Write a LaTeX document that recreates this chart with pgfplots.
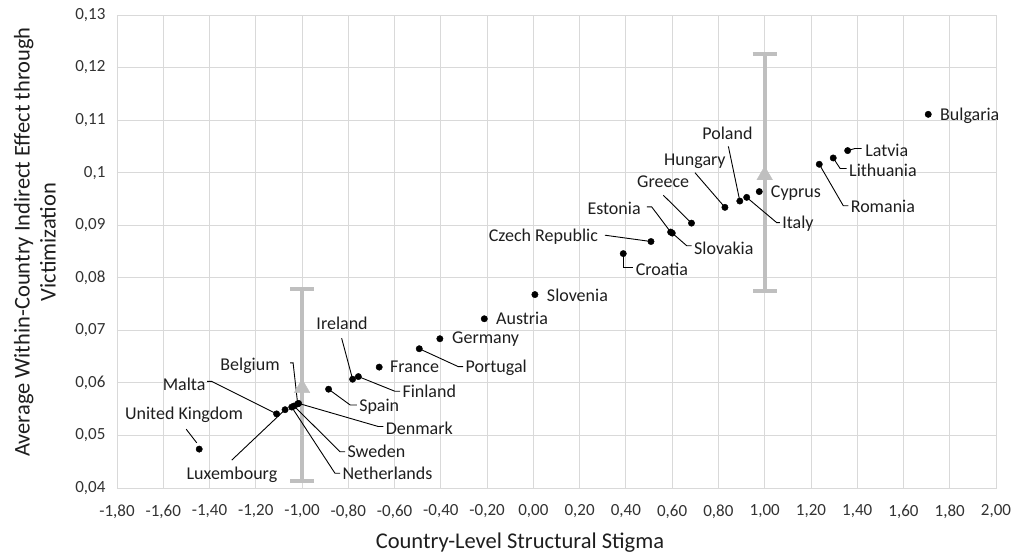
\documentclass[border=0pt]{standalone}
\usepackage{pgfplots}
\pgfplotsset{compat=1.18}
\usepackage{pgfplotstable}
\usepackage{fontspec}
\setmainfont{Carlito}
\definecolor{gridc}{RGB}{217,217,217}
\definecolor{errc}{RGB}{191,191,191}
\definecolor{txt}{RGB}{30,30,30}
\definecolor{tickc}{RGB}{50,50,50}
\pgfplotstableread{
x y
-1.4446 0.0474
-1.1100 0.0541
-1.0734 0.0549
-1.0447 0.0554
-1.0348 0.0556
-1.0189 0.0560
-1.0150 0.0561
-0.8853 0.0588
-0.7814 0.0607
-0.7566 0.0612
-0.6665 0.0630
-0.4933 0.0665
-0.4042 0.0684
-0.2122 0.0722
0.0066 0.0768
0.3886 0.0846
0.5084 0.0869
0.5935 0.0887
0.6005 0.0885
0.6836 0.0904
0.8281 0.0934
0.8925 0.0946
0.9222 0.0953
0.9766 0.0964
1.2359 0.1016
1.2963 0.1028
1.3587 0.1042
1.7071 0.1111
}\pts
\begin{document}
\begin{tikzpicture}[
  lbl/.style={font=\fontsize{18}{21}\selectfont, text=txt, inner sep=0pt},
  ld/.style={draw=black, line width=0.9pt},
]
\useasboundingbox (-117pt,-71pt) rectangle (898pt,488pt);
\begin{axis}[
  scale only axis, width=879pt, height=473pt,
  xmin=-1.8, xmax=2.0, ymin=0.04, ymax=0.13,
  xtick={-1.8,-1.6,-1.4,-1.2,-1,-0.8,-0.6,-0.4,-0.2,0,0.2,0.4,0.6,0.8,1,1.2,1.4,1.6,1.8,2},
  xticklabels={{-1,80},{-1,60},{-1,40},{-1,20},{-1,00},{-0,80},{-0,60},{-0,40},{-0,20},{0,00},{0,20},{0,40},{0,60},{0,80},{1,00},{1,20},{1,40},{1,60},{1,80},{2,00}},
  ytick={0.04,0.05,0.06,0.07,0.08,0.09,0.1,0.11,0.12,0.13},
  yticklabels={{0,04},{0,05},{0,06},{0,07},{0,08},{0,09},{0,1},{0,11},{0,12},{0,13}},
  scaled y ticks=false, scaled x ticks=false,
  grid=major, major grid style={draw=gridc, line width=0.8pt},
  axis line style={draw=gridc, line width=0.8pt},
  tick style={draw=none},
  tick label style={font=\fontsize{17}{20}\selectfont, text=tickc},
  xticklabel style={yshift=-13pt},
  yticklabel style={xshift=-8pt},
  xlabel={Country-Level Structural Stigma},
  ylabel={Average Within-Country Indirect Effect through\\Victimization},
  label style={font=\fontsize{22.5}{26}\selectfont, text=txt},
  xlabel style={at={(axis cs:-0.058,0.04)}, anchor=center, yshift=-55pt},
  ylabel style={at={(axis description cs:-0.0933,0.52)}, anchor=center, align=center},
  clip=false,
]
% error bars
\addplot[errc, only marks, mark=triangle*, mark size=9pt, mark options={fill=errc, draw=errc},
  error bars/.cd, y dir=both, y explicit,
  error bar style={line width=4pt, errc},
  error mark options={rotate=90, mark size=12pt, line width=4pt, errc}]
  coordinates {(-1,0.0590) += (0,0.0188) -= (0,0.0176)
               (1,0.0995) += (0,0.0231) -= (0,0.0221)};
% leader lines
\draw[ld] (axis cs:-1.5010,0.0512) -- (axis cs:-1.4554,0.0486);
\draw[ld] (axis cs:-1.4109,0.0603) -- (axis cs:-1.3911,0.0603) -- (axis cs:-1.1100,0.0541);
\draw[ld] (axis cs:-1.0516,0.0638) -- (axis cs:-1.0387,0.0638) -- (axis cs:-1.0189,0.0560);
\draw[ld] (axis cs:-1.3040,0.0453) -- (axis cs:-1.0734,0.0549);
\draw[ld] (axis cs:-1.0150,0.0561) -- (axis cs:-0.6705,0.0517) -- (axis cs:-0.6487,0.0517);
\draw[ld] (axis cs:-1.0348,0.0556) -- (axis cs:-0.8358,0.0469) -- (axis cs:-0.8140,0.0469);
\draw[ld] (axis cs:-1.0447,0.0554) -- (axis cs:-0.8576,0.0428) -- (axis cs:-0.8358,0.0428);
\draw[ld] (axis cs:-0.8853,0.0588) -- (axis cs:-0.7922,0.0558) -- (axis cs:-0.7635,0.0558);
\draw[ld] (axis cs:-0.8289,0.0685) -- (axis cs:-0.7814,0.0607);
\draw[ld] (axis cs:-0.7566,0.0612) -- (axis cs:-0.5982,0.0584) -- (axis cs:-0.5765,0.0584);
\draw[ld] (axis cs:-0.4933,0.0665) -- (axis cs:-0.3250,0.0631) -- (axis cs:-0.3033,0.0631);
\draw[ld] (axis cs:0.3095,0.0881) -- (axis cs:0.5084,0.0869);
\draw[ld] (axis cs:0.3886,0.0846) -- (axis cs:0.3886,0.0819) -- (axis cs:0.4322,0.0819);
\draw[ld] (axis cs:0.4906,0.0935) -- (axis cs:0.5114,0.0935) -- (axis cs:0.5935,0.0887);
\draw[ld] (axis cs:0.6005,0.0885) -- (axis cs:0.6628,0.0861) -- (axis cs:0.6846,0.0861);
\draw[ld] (axis cs:0.5619,0.0957) -- (axis cs:0.6836,0.0904);
\draw[ld] (axis cs:0.6985,0.1000) -- (axis cs:0.8281,0.0934);
\draw[ld] (axis cs:0.8430,0.1050) -- (axis cs:0.8925,0.0946);
\draw[ld] (axis cs:0.9222,0.0953) -- (axis cs:1.0518,0.0905) -- (axis cs:1.0657,0.0905);
\draw[ld] (axis cs:1.2359,0.1016) -- (axis cs:1.3399,0.0937) -- (axis cs:1.3617,0.0937);
\draw[ld] (axis cs:1.2963,0.1028) -- (axis cs:1.3260,0.1008) -- (axis cs:1.3547,0.1008);
\draw[ld] (axis cs:1.3587,0.1042) -- (axis cs:1.3904,0.1046) -- (axis cs:1.4191,0.1046);
% points
\addplot[only marks, mark=*, mark size=3.2pt, black] table {\pts};
% labels
\node[lbl] at (axis cs:-1.5099,0.0539) {United Kingdom};
\node[lbl] at (axis cs:-1.5099,0.0598) {Malta};
\node[lbl] at (axis cs:-1.2248,0.0633) {Belgium};
\node[lbl] at (axis cs:-1.3030,0.0425) {Luxembourg};
\node[lbl,anchor=west] at (axis cs:-0.6388,0.0514) {Denmark};
\node[lbl,anchor=west] at (axis cs:-0.8041,0.0469) {Sweden};
\node[lbl,anchor=west] at (axis cs:-0.8259,0.0428) {Netherlands};
\node[lbl,anchor=west] at (axis cs:-0.7536,0.0555) {Spain};
\node[lbl] at (axis cs:-0.8269,0.0713) {Ireland};
\node[lbl,anchor=west] at (axis cs:-0.5666,0.0584) {Finland};
\node[lbl,anchor=west] at (axis cs:-0.6200,0.0631) {France};
\node[lbl,anchor=west] at (axis cs:-0.2934,0.0628) {Portugal};
\node[lbl,anchor=west] at (axis cs:-0.3518,0.0684) {Germany};
\node[lbl,anchor=west] at (axis cs:-0.1617,0.0722) {Austria};
\node[lbl,anchor=west] at (axis cs:0.0580,0.0766) {Slovenia};
\node[lbl] at (axis cs:0.0432,0.0878) {Czech Republic};
\node[lbl,anchor=west] at (axis cs:0.4421,0.0816) {Croatia};
\node[lbl] at (axis cs:0.3490,0.0933) {Estonia};
\node[lbl,anchor=west] at (axis cs:0.6945,0.0857) {Slovakia};
\node[lbl] at (axis cs:0.5609,0.0982) {Greece};
\node[lbl] at (axis cs:0.6985,0.1022) {Hungary};
\node[lbl] at (axis cs:0.8390,0.1075) {Poland};
\node[lbl,anchor=west] at (axis cs:1.0261,0.0961) {Cyprus};
\node[lbl,anchor=west] at (axis cs:1.0756,0.0903) {Italy};
\node[lbl,anchor=west] at (axis cs:1.3716,0.0935) {Romania};
\node[lbl,anchor=west] at (axis cs:1.3646,0.1005) {Lithuania};
\node[lbl,anchor=west] at (axis cs:1.4339,0.1043) {Latvia};
\node[lbl,anchor=west] at (axis cs:1.7576,0.1109) {Bulgaria};
\end{axis}
\end{tikzpicture}
\end{document}
